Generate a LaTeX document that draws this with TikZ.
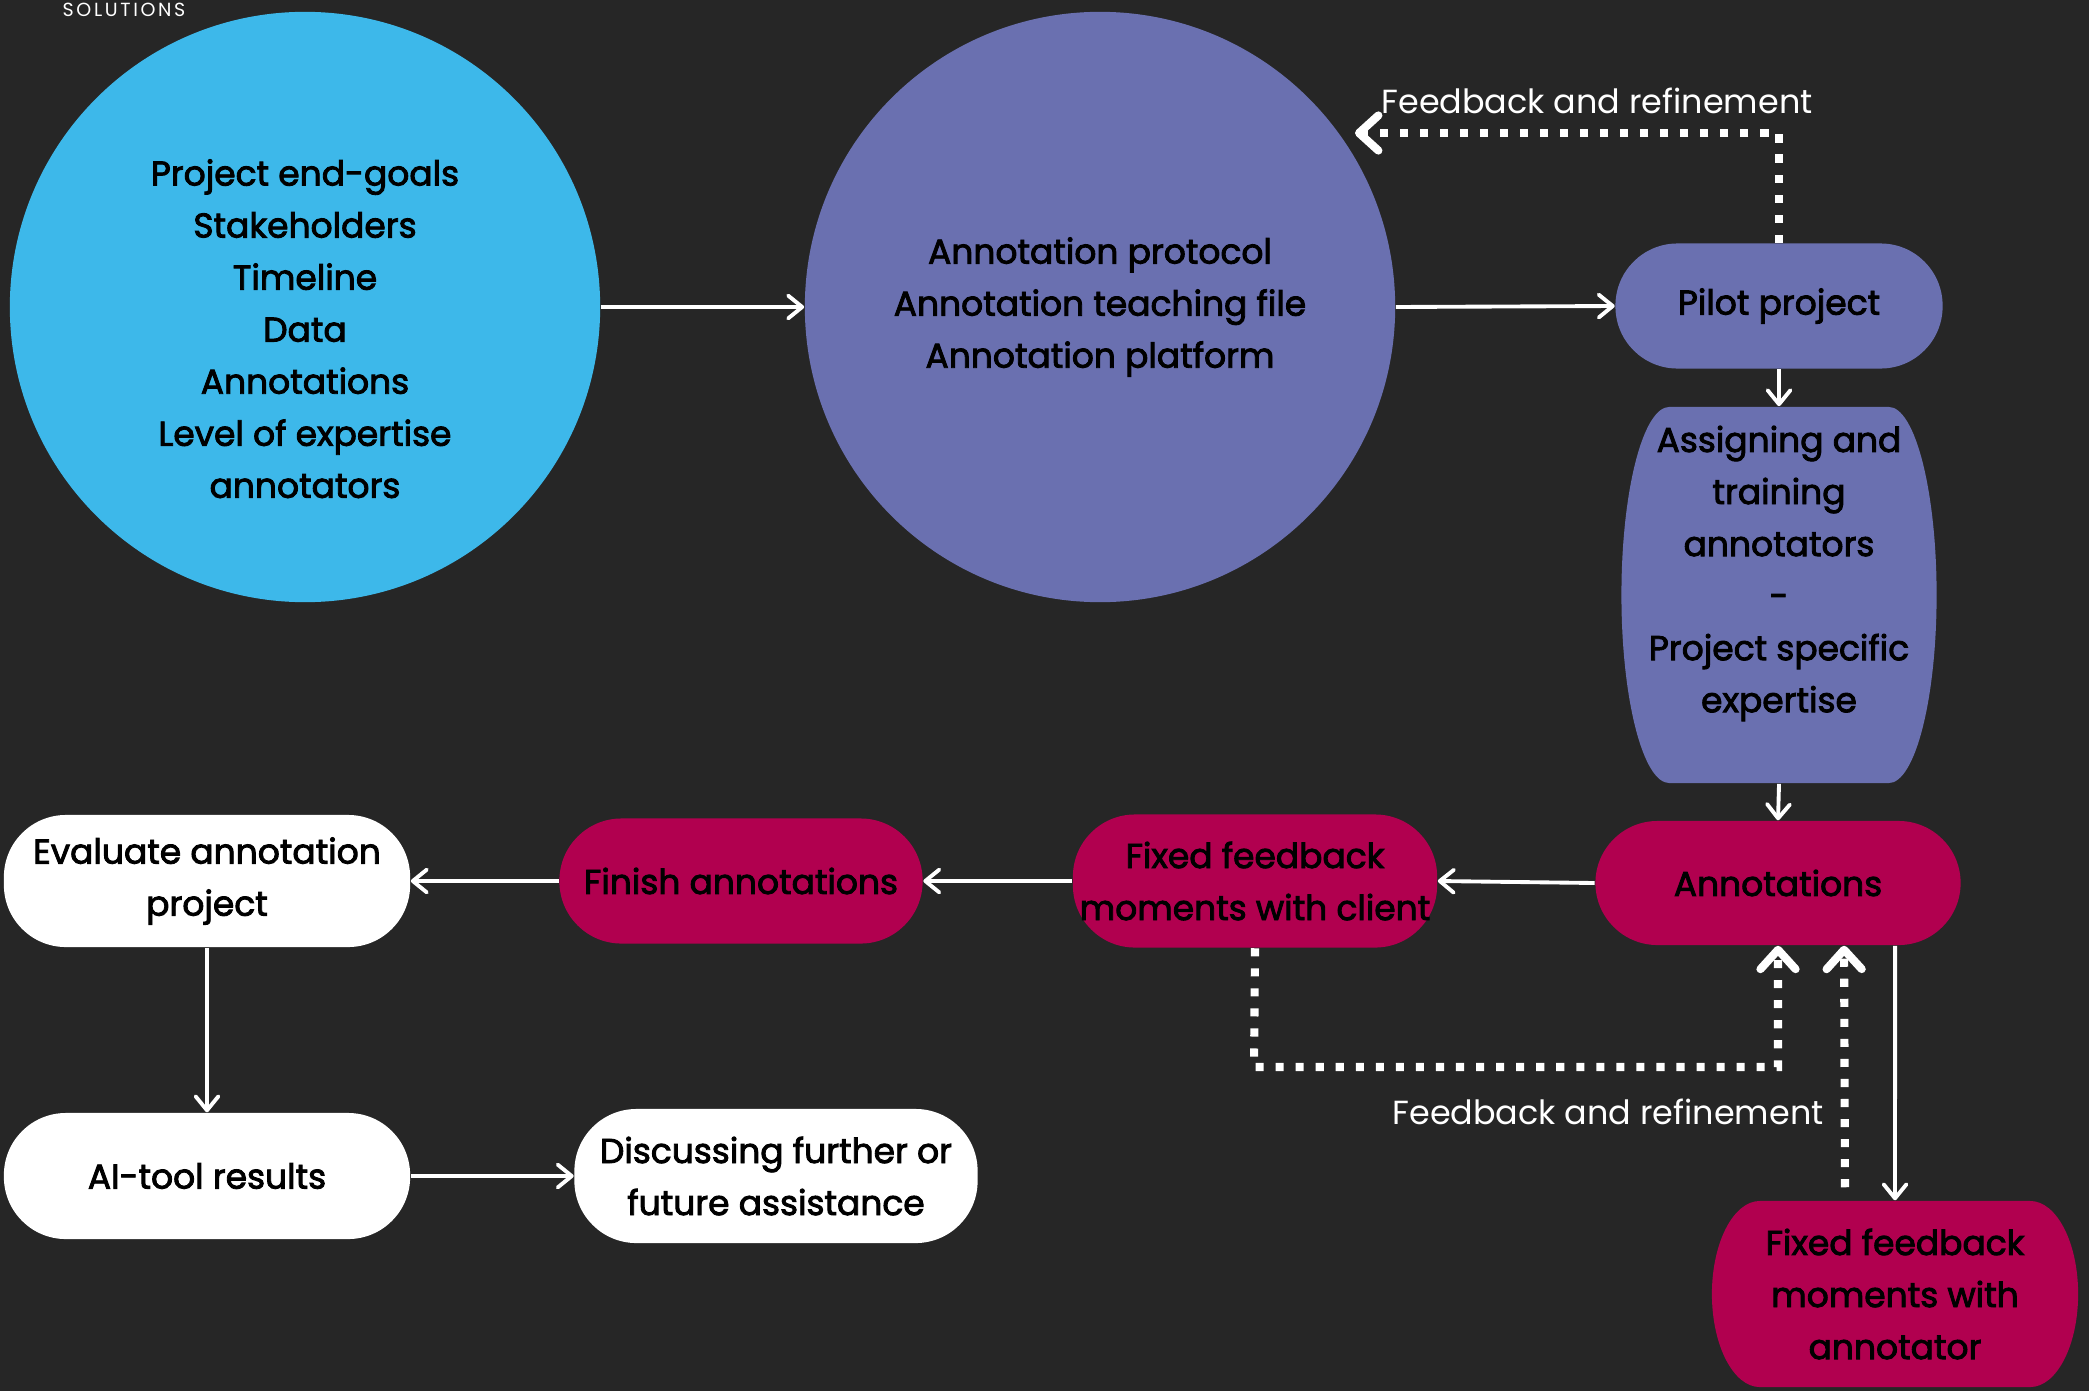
\documentclass[tikz,border=0pt]{standalone}
\usepackage{fontspec}
\setmainfont{Poppins}
\newfontfamily\boxfamily{Poppins}[FakeBold=2.5]
\usetikzlibrary{arrows.meta}

\definecolor{darkbg}{HTML}{262626}
\definecolor{skyblue}{HTML}{3DB8EA}
\definecolor{slate}{HTML}{6A70B0}
\definecolor{berry}{HTML}{B1004F}

\newcommand{\boxfont}{\boxfamily\fontsize{9.8}{14.8}\selectfont}

\tikzset{
  box/.style={rectangle, rounded corners=0.62cm, fill=#1, text=black, align=center, font=\boxfont, inner sep=0pt},
  barrel/.style 2 args={rectangle, text=black, align=center, font=\boxfont, inner sep=0pt,
    path picture={
      \fill[#1] ([xshift=0.48cm]path picture bounding box.north west)
        -- ([xshift=-0.48cm]path picture bounding box.north east)
        arc[start angle=90, end angle=0, x radius=0.48cm, y radius=#2]
        arc[start angle=0, end angle=-90, x radius=0.48cm, y radius=#2]
        -- ([xshift=0.48cm]path picture bounding box.south west)
        arc[start angle=270, end angle=180, x radius=0.48cm, y radius=#2]
        arc[start angle=180, end angle=90, x radius=0.48cm, y radius=#2]
        -- cycle;}},
  flowarrow/.style={draw=white, line width=1.1pt, -{Straight Barb[length=4pt,width=6.5pt,round]}},
  fbarrow/.style={draw=white, line width=2.3pt, dash pattern=on 2.3pt off 3.4pt,
    -{Straight Barb[length=5.5pt,width=10pt,round]}},
  fbtext/.style={text=white, font=\fontsize{9.5}{12}\selectfont}
}

\begin{document}
\begin{tikzpicture}[x=0.01cm, y=-0.01cm]
  %Background
  \useasboundingbox (0,0) rectangle (2089,1391);
  \fill[darkbg] (0,0) rectangle (2089,1391);
  \node[text=white, font=\fontsize{5.4}{6}\selectfont\addfontfeature{LetterSpace=14}] (Title) at (124,10) {SOLUTIONS};

  %Preparation
  \node[circle, fill=skyblue, minimum size=5.9cm, align=center, font=\boxfont, text=black] (Goals) at (305,307)
    {\mbox{}\\[5pt]Project end-goals\\Stakeholders\\Timeline\\Data\\Annotations\\Level of expertise\\annotators};
  \node[circle, fill=slate, minimum size=5.9cm, align=center, font=\boxfont, text=black] (Protocol) at (1100,307)
    {Annotation protocol\\Annotation teaching file\\Annotation platform};
  \node[box=slate, minimum width=3.27cm, minimum height=1.25cm] (Pilot) at (1779,306) {Pilot project};
  \node[barrel={slate}{1.88cm}, minimum width=3.15cm, minimum height=3.76cm] (Training) at (1779,595)
    {Assigning and\\training\\annotators\\-\\Project specific\\expertise\\\mbox{}};

  %Annotation rounds
  \node[box=berry, minimum width=3.65cm, minimum height=1.24cm] (Annotations) at (1778,883) {Annotations};
  \node[box=berry, minimum width=3.64cm, minimum height=1.33cm] (ClientFeedback) at (1255,881)
    {Fixed feedback\\moments with client};
  \node[box=berry, minimum width=3.63cm, minimum height=1.25cm] (Finish) at (741,881) {Finish annotations};
  \node[barrel={berry}{0.93cm}, minimum width=3.66cm, minimum height=1.86cm] (AnnotatorFeedback) at (1895,1294)
    {Fixed feedback\\moments with\\annotator};

  %Wrap up
  \node[box=white, minimum width=4.06cm, minimum height=1.32cm] (Evaluate) at (207,881)
    {Evaluate annotation\\project};
  \node[box=white, minimum width=4.06cm, minimum height=1.26cm] (AITool) at (207,1176) {AI-tool results};
  \node[box=white, minimum width=4.03cm, minimum height=1.34cm] (Discussing) at (776,1176)
    {Discussing further or\\future assistance};

  %Flow
  \draw[flowarrow] (Goals.east) -- (Protocol.west);
  \draw[flowarrow] (Protocol.east) -- (Pilot.west);
  \draw[flowarrow] (Pilot.south) -- (Training.north);
  \draw[flowarrow] (Training.south) -- (Annotations.north);
  \draw[flowarrow] (Annotations.west) -- (ClientFeedback.east);
  \draw[flowarrow] (ClientFeedback.west) -- (Finish.east);
  \draw[flowarrow] (Finish.west) -- (Evaluate.east);
  \draw[flowarrow] (Evaluate.south) -- (AITool.north);
  \draw[flowarrow] (AITool.east) -- (Discussing.west);
  \draw[flowarrow] ([xshift=1.17cm]Annotations.south) -- (AnnotatorFeedback.north);

  %Feedback loops
  \coordinate (TopFeedback) at (1355,133);
  \coordinate (LoopCorner) at (1254,1067);
  \draw[fbarrow] (Pilot.north) |- (TopFeedback);
  \node[fbtext] (TopFeedbackText) at (1597,101) {Feedback and refinement};
  \draw[fbarrow] (ClientFeedback.south) -- (LoopCorner) -| (Annotations.south);
  \draw[fbarrow] ([xshift=-0.5cm,yshift=0.13cm]AnnotatorFeedback.north) -- ([xshift=0.66cm]Annotations.south);
  \node[fbtext] (LowFeedbackText) at (1608,1112) {Feedback and refinement};
\end{tikzpicture}
\end{document}
